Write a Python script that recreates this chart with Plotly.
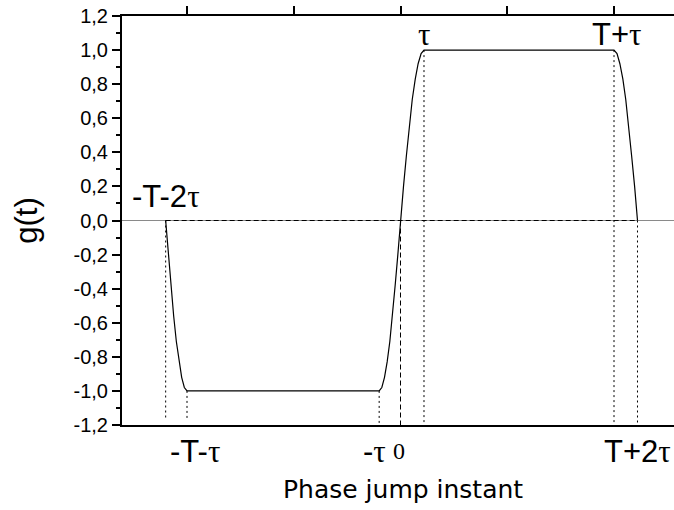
import plotly.graph_objects as go

# Key instants of the phase-jump pulse (x in units of the top-axis tick spacing)
instant_names = ["-T-2τ", "-T-τ", "-τ", "0", "τ", "T+τ", "T+2τ"]
instant_t = [-2.20, -2.00, -0.20, 0.0, 0.22, 2.00, 2.22]
instant_g = [0.0, -1.0, -1.0, 0.0, 1.0, 1.0, 0.0]

# Pulse shape g(t)
t_vals = [
    -2.200, -2.175, -2.150, -2.125, -2.100, -2.075, -2.050, -2.025, -2.000,
    -0.200, -0.175, -0.150, -0.125, -0.100, -0.075, -0.050, -0.025, 0.000,
    0.028, 0.055, 0.083, 0.110, 0.138, 0.165, 0.193, 0.220,
    2.000, 2.028, 2.055, 2.083, 2.110, 2.138, 2.165, 2.193, 2.220,
]
g_vals = [
    0.00, -0.20, -0.38, -0.56, -0.71, -0.83, -0.92, -0.98, -1.00,
    -1.00, -0.98, -0.92, -0.83, -0.71, -0.56, -0.38, -0.20, 0.00,
    0.20, 0.38, 0.56, 0.71, 0.83, 0.92, 0.98, 1.00,
    1.00, 0.98, 0.92, 0.83, 0.71, 0.56, 0.38, 0.20, 0.00,
]

y_ticks = [-1.2, -1.0, -0.8, -0.6, -0.4, -0.2, 0.0, 0.2, 0.4, 0.6, 0.8, 1.0, 1.2]
y_ticktext = ["-1,2", "-1,0", "-0,8", "-0,6", "-0,4", "-0,2", "0,0",
              "0,2", "0,4", "0,6", "0,8", "1,0", "1,2"]
top_ticks = [-2, -1, 0, 1, 2]

X_RANGE = [-2.609, 2.562]
Y_RANGE = [-1.2, 1.2]
SANS = "Liberation Sans, Arial, sans-serif"
SERIF = "Liberation Serif, Times New Roman, serif"


def tau(s):
    # render the Greek tau in a serif face, the rest in sans
    return s.replace("τ", f'<span style="font-family:{SERIF}">τ</span>')


fig = go.Figure()

# dotted drop lines from each key instant to the bottom axis
drop_bottom = [-1.17, -1.17, -1.2, None, -1.2, -1.2, -1.2]
for name, t, g, yb in zip(instant_names, instant_t, instant_g, drop_bottom):
    if yb is None:
        continue
    fig.add_trace(go.Scatter(x=[t, t], y=[g, yb], mode="lines",
                             line=dict(color="black", width=1, dash="2px,3px"),
                             hoverinfo="skip", showlegend=False))

# dashed reference lines through the origin
fig.add_trace(go.Scatter(x=[instant_t[0], instant_t[-1]], y=[0, 0], mode="lines",
                         line=dict(color="black", width=1, dash="5px,3px"),
                         hoverinfo="skip", showlegend=False))
fig.add_trace(go.Scatter(x=[0, 0], y=[0, -1.2], mode="lines",
                         line=dict(color="black", width=1, dash="5px,3px"),
                         hoverinfo="skip", showlegend=False))

# the pulse itself
fig.add_trace(go.Scatter(x=t_vals, y=g_vals, mode="lines",
                         line=dict(color="black", width=1.2),
                         showlegend=False))

# top mirror axis carrying the tick marks
fig.add_trace(go.Scatter(x=[0], y=[0], xaxis="x2", mode="markers",
                         marker=dict(opacity=0), hoverinfo="skip", showlegend=False))

fig.update_layout(
    width=674, height=510,
    margin=dict(l=122, r=0, t=16, b=85),
    paper_bgcolor="white", plot_bgcolor="white",
    font=dict(family=SANS, color="black"),
    xaxis=dict(range=X_RANGE, showgrid=False, zeroline=False, showline=True,
               linecolor="black", linewidth=2, ticks="", showticklabels=False),
    xaxis2=dict(range=X_RANGE, overlaying="x", side="top", showgrid=False,
                zeroline=False, showline=True, linecolor="black", linewidth=2,
                tickmode="array", tickvals=top_ticks, ticks="outside", ticklen=8,
                tickwidth=1.5, tickcolor="black", showticklabels=False),
    yaxis=dict(range=Y_RANGE, showgrid=False, zeroline=True, zerolinecolor="#8a8a8a",
               zerolinewidth=1, showline=True, linecolor="black", linewidth=2,
               tickmode="array", tickvals=y_ticks, ticktext=y_ticktext,
               ticks="outside", ticklen=8, tickwidth=1.5, tickcolor="black",
               tickfont=dict(size=20, family=SANS, color="black"),
               minor=dict(dtick=0.1, tick0=0, ticks="outside", ticklen=4,
                          tickwidth=1.5, tickcolor="black"),
               title=dict(text="g(t)", font=dict(size=31, family=SANS), standoff=27)),
)

label_font = dict(size=31, family=SANS, color="black")

# labels on the curve
fig.add_annotation(x=instant_t[0], y=0.14, text=tau(instant_names[0]), showarrow=False,
                   xanchor="center", yanchor="middle", font=label_font)
fig.add_annotation(x=instant_t[4], y=1.09, text=tau(instant_names[4]), showarrow=False,
                   xanchor="center", yanchor="middle", font=label_font)
fig.add_annotation(x=instant_t[5], y=1.09, text=tau(instant_names[5]), showarrow=False,
                   xanchor="center", yanchor="middle", font=label_font, xshift=3)

# labels under the bottom axis
fig.add_annotation(x=instant_t[1], y=-0.064, yref="paper", text=tau(instant_names[1]),
                   showarrow=False, xanchor="center", yanchor="middle", font=label_font,
                   xshift=8)
fig.add_annotation(x=instant_t[2], y=-0.064, yref="paper", text=tau(instant_names[2]),
                   showarrow=False, xanchor="center", yanchor="middle", font=label_font,
                   xshift=-5)
fig.add_annotation(x=instant_t[3], y=-0.064, yref="paper", text=instant_names[3],
                   showarrow=False, xanchor="center", yanchor="middle",
                   font=dict(size=24, family=SERIF, color="black"), xshift=-2)
fig.add_annotation(x=instant_t[6], y=-0.064, yref="paper", text=tau(instant_names[6]),
                   showarrow=False, xanchor="center", yanchor="middle", font=label_font,
                   xshift=0)

# axis title
fig.add_annotation(x=0.02, y=-0.158, yref="paper", text="Phase jump instant",
                   showarrow=False, xanchor="center", yanchor="middle",
                   font=dict(size=25, family="DejaVu Sans", color="black"))

fig.write_html("out.html")
